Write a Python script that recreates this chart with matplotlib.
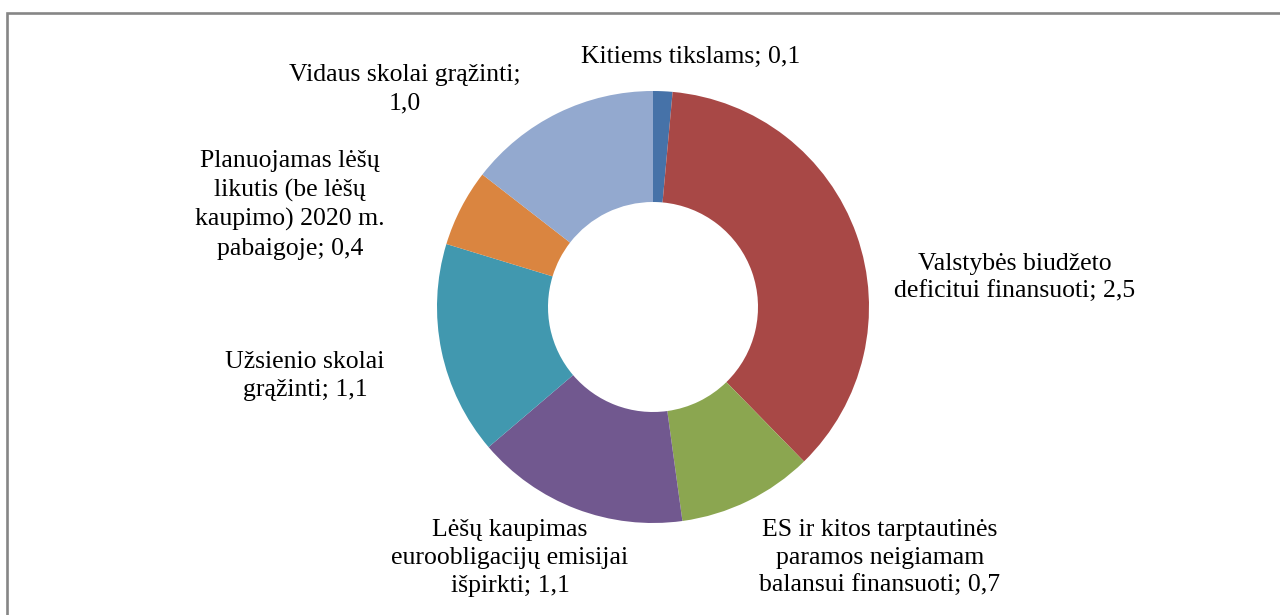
import matplotlib
matplotlib.use("Agg")
import matplotlib.pyplot as plt
from matplotlib.patches import Rectangle

# data (mlrd. Eur), clockwise from the top
names = [
    "Kitiems tikslams;",
    "Valstybės biudžeto\ndeficitui finansuoti;",
    "ES ir kitos tarptautinės\nparamos neigiamam\nbalansui finansuoti;",
    "Lėšų kaupimas\neuroobligacijų emisijai\nišpirkti;",
    "Užsienio skolai\ngrąžinti;",
    "Planuojamas lėšų\nlikutis (be lėšų\nkaupimo) 2020 m.\npabaigoje;",
    "Vidaus skolai grąžinti;\n",
]
values = [0.1, 2.5, 0.7, 1.1, 1.1, 0.4, 1.0]
colors = ["#4672A8", "#A84846", "#8BA650", "#71588F", "#4198AF", "#DA8540", "#93A9CF"]

# label block centres in pixels (x, y from top)
label_pos = [(691, 57), (1015, 278), (880, 558), (510, 558), (305, 376), (290, 205), (405, 89)]

W, H = 1280, 615
fig = plt.figure(figsize=(W / 100, H / 100), dpi=100)
ax = fig.add_axes([0, 0, 1, 1])

ax.pie(values, colors=colors, startangle=90, counterclock=False,
       radius=216, center=(653, H - 307),
       wedgeprops=dict(width=111, linewidth=0))

for name, val, (x, y) in zip(names, values, label_pos):
    num = f"{val:.1f}".replace(".", ",")
    sep = "" if name.endswith("\n") else " "
    ax.text(x, H - y, name + sep + num, ha="center", va="center", fontsize=18.5,
            family="Liberation Serif", linespacing=1.36)

# outer frame, only left and top edges visible in the crop
ax.add_patch(Rectangle((7, -20), W, H - 13 + 20, fill=False,
                       edgecolor="#868686", linewidth=1.9, clip_on=False))

ax.set_xlim(0, W)
ax.set_ylim(0, H)
ax.set_aspect("equal")
ax.axis("off")

fig.savefig("out.png", dpi=100)
